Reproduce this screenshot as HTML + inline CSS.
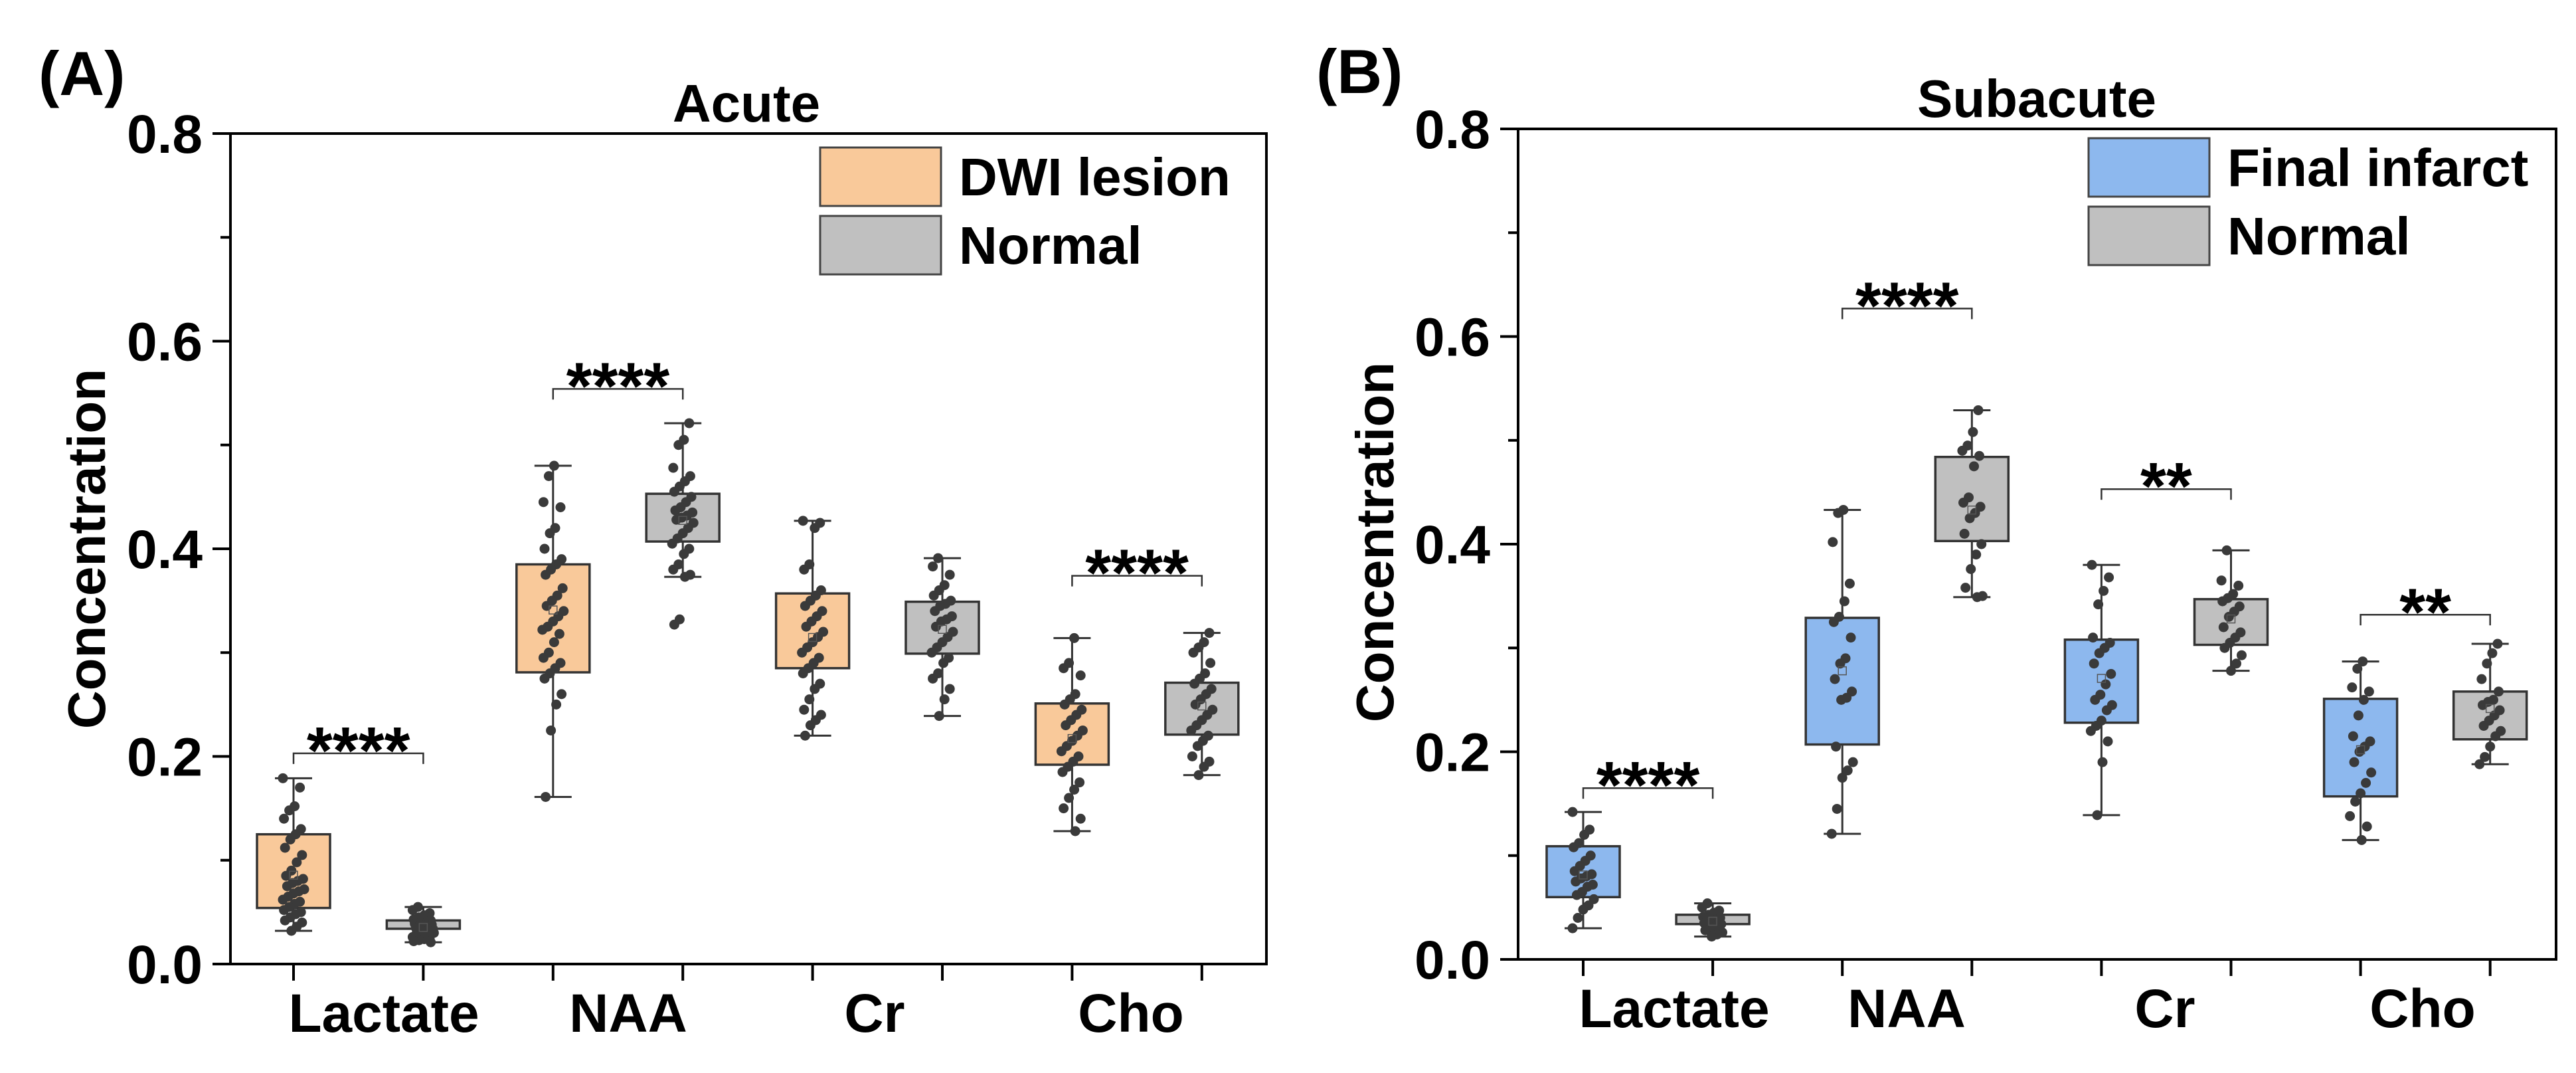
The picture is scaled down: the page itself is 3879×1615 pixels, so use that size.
<!DOCTYPE html>
<html><head><meta charset="utf-8"><style>
html,body{margin:0;padding:0;background:#fff;}
svg{display:block;font-family:"Liberation Sans",Arial,sans-serif;font-weight:bold;}
</style></head>
<body>
<svg id="fig" width="3879" height="1615" viewBox="0 0 3879 1615" xmlns="http://www.w3.org/2000/svg"></svg>
<script>
// ---- Data ----
const categories = ["Lactate","NAA","Cr","Cho"];
const yTicks = [0.0,0.2,0.4,0.6,0.8];
const yTickLabels = ["0.0","0.2","0.4","0.6","0.8"];
// Panel A box stats [min,q1,q3,max] per category for lesion / normal
const aLesionStats = [[0.032,0.054,0.125,0.179],[0.161,0.281,0.385,0.480],[0.220,0.285,0.357,0.427],[0.128,0.192,0.251,0.314]];
const aNormalStats = [[0.021,0.034,0.042,0.055],[0.373,0.407,0.453,0.521],[0.239,0.299,0.349,0.391],[0.182,0.221,0.271,0.319]];
const bInfarctStats = [[0.030,0.060,0.109,0.142],[0.121,0.207,0.329,0.433],[0.139,0.228,0.308,0.380],[0.115,0.157,0.251,0.287]];
const bNormalStats = [[0.022,0.034,0.043,0.054],[0.349,0.403,0.484,0.529],[0.278,0.303,0.347,0.394],[0.188,0.212,0.258,0.304]];
// Points
const aLesionPts = [
 [0.179,0.170,0.152,0.148,0.140,0.130,0.125,0.120,0.112,0.105,0.098,0.090,0.085,0.082,0.080,0.078,0.075,0.072,0.070,0.068,0.065,0.062,0.060,0.058,0.055,0.052,0.050,0.048,0.045,0.042,0.040,0.036,0.032],
 [0.480,0.470,0.445,0.440,0.420,0.415,0.400,0.390,0.385,0.380,0.375,0.362,0.355,0.350,0.345,0.340,0.335,0.330,0.325,0.322,0.318,0.310,0.300,0.295,0.290,0.285,0.280,0.275,0.260,0.250,0.225,0.161],
 [0.427,0.425,0.420,0.385,0.380,0.360,0.355,0.350,0.345,0.340,0.335,0.330,0.325,0.320,0.315,0.310,0.305,0.300,0.295,0.290,0.285,0.280,0.270,0.265,0.255,0.245,0.240,0.235,0.230,0.220],
 [0.314,0.290,0.285,0.278,0.260,0.255,0.250,0.245,0.240,0.235,0.230,0.225,0.220,0.215,0.210,0.205,0.200,0.195,0.190,0.185,0.175,0.168,0.160,0.150,0.140,0.128]];
const aNormalPts = [
 [0.055,0.052,0.049,0.047,0.045,0.043,0.042,0.041,0.040,0.039,0.038,0.037,0.036,0.035,0.034,0.033,0.032,0.031,0.030,0.029,0.028,0.027,0.026,0.025,0.024,0.023,0.022,0.021,0.035,0.038],
 [0.521,0.505,0.500,0.478,0.470,0.465,0.460,0.455,0.450,0.445,0.440,0.437,0.435,0.432,0.430,0.428,0.425,0.420,0.415,0.410,0.405,0.400,0.395,0.385,0.380,0.375,0.373,0.332,0.327],
 [0.391,0.383,0.375,0.365,0.360,0.355,0.350,0.347,0.345,0.340,0.335,0.332,0.330,0.325,0.320,0.315,0.310,0.305,0.300,0.295,0.290,0.280,0.275,0.265,0.255,0.239],
 [0.319,0.310,0.305,0.300,0.290,0.280,0.275,0.270,0.265,0.260,0.255,0.250,0.245,0.240,0.235,0.230,0.225,0.220,0.215,0.210,0.200,0.195,0.190,0.182]];
const bInfarctPts = [
 [0.142,0.125,0.120,0.112,0.108,0.100,0.095,0.090,0.085,0.082,0.080,0.078,0.075,0.072,0.070,0.065,0.062,0.058,0.052,0.048,0.040,0.030],
 [0.433,0.430,0.402,0.362,0.345,0.330,0.325,0.310,0.290,0.285,0.270,0.258,0.252,0.250,0.205,0.190,0.182,0.175,0.145,0.121],
 [0.380,0.368,0.355,0.342,0.310,0.305,0.300,0.295,0.285,0.275,0.265,0.255,0.250,0.245,0.240,0.230,0.225,0.220,0.210,0.190,0.139],
 [0.287,0.280,0.262,0.258,0.250,0.235,0.215,0.210,0.205,0.200,0.190,0.180,0.170,0.160,0.152,0.138,0.128,0.115]];
const bNormalPts = [
 [0.054,0.050,0.047,0.045,0.043,0.041,0.040,0.038,0.036,0.035,0.034,0.032,0.030,0.028,0.026,0.024,0.022],
 [0.529,0.508,0.495,0.490,0.485,0.475,0.445,0.440,0.436,0.430,0.425,0.410,0.400,0.390,0.376,0.358,0.350,0.349],
 [0.394,0.365,0.360,0.352,0.348,0.345,0.340,0.335,0.330,0.320,0.315,0.310,0.305,0.300,0.293,0.285,0.278],
 [0.304,0.295,0.285,0.270,0.258,0.250,0.248,0.245,0.240,0.235,0.230,0.225,0.220,0.215,0.205,0.195,0.188]];
// significance: [category index, bracket value, label]
const aSig = [[0,0.203,"****"],[1,0.554,"****"],[3,0.374,"****"]];
const bSig = [[0,0.165,"****"],[1,0.627,"****"],[2,0.453,"**"],[3,0.332,"**"]];

const NS="http://www.w3.org/2000/svg";
const svg=document.getElementById('fig');
function el(tag,attrs,parent,text){const e=document.createElementNS(NS,tag);for(const k in attrs)e.setAttribute(k,attrs[k]);if(text!==undefined)e.textContent=text;(parent||svg).appendChild(e);return e;}

function panel(cfg){
  const g=el('g',{});
  
  
  const L=cfg.left,R=cfg.right,T=cfg.top,B=cfg.bottom;
  const y=v=>B-(v/0.8)*(B-T);
  const x=i=>cfg.x0+i*cfg.dx;
  const fr=el('rect',{x:L,y:T,width:R-L,height:B-T,fill:'none',stroke:'#000','stroke-width':4},g);
  
  
  yTicks.forEach((t,i)=>{
    el('line',{x1:L-27,x2:L,y1:y(t),y2:y(t),stroke:'#000','stroke-width':4},g);
    const tl=el('text',{x:cfg.left-42,y:y(t)+29,'font-size':82,'text-anchor':'end'},g,yTickLabels[i]);
    
    
    if(i<yTicks.length-1){const m=t+0.1;el('line',{x1:L-15,x2:L,y1:y(m),y2:y(m),stroke:'#000','stroke-width':4},g);}
  });
  for(let i=0;i<8;i++) el('line',{x1:x(i),x2:x(i),y1:B,y2:B+25,stroke:'#000','stroke-width':4},g);
  categories.forEach((c,i)=>{
    const t=el('text',{x:cfg.catX[i],y:cfg.catY,'font-size':82,'text-anchor':'middle'},g,c);
    
    
  });
  const yt=el('text',{x:0,y:0,'font-size':80,'text-anchor':'middle',transform:`translate(${cfg.ytX},${cfg.ytY}) rotate(-90)`},g,'Concentration');
  
  
  const tt=el('text',{x:cfg.titleX,y:cfg.titleY,'font-size':80,'text-anchor':'middle'},g,cfg.title);
  
  
  const pl=el('text',{x:cfg.plX,y:cfg.plY,'font-size':94},g,cfg.panelLabel);
  
  
  const series=[[cfg.s1Stats,cfg.s1Pts,cfg.c1,0],[cfg.s2Stats,cfg.s2Pts,'#c0c0c0',1]];
  series.forEach(([stats,pts,col,off],si)=>{
    stats.forEach((s,ci)=>{
      const cx=x(ci*2+off);
      const bg=el('g',{},g);
      
      
      el('line',{x1:cx,x2:cx,y1:y(s[3]),y2:y(s[2]),stroke:'#333','stroke-width':3},bg);
      el('line',{x1:cx,x2:cx,y1:y(s[1]),y2:y(s[0]),stroke:'#333','stroke-width':3},bg);
      el('line',{x1:cx-28,x2:cx+28,y1:y(s[3]),y2:y(s[3]),stroke:'#333','stroke-width':3},bg);
      el('line',{x1:cx-28,x2:cx+28,y1:y(s[0]),y2:y(s[0]),stroke:'#333','stroke-width':3},bg);
      el('rect',{x:cx-55,y:y(s[2]),width:110,height:y(s[1])-y(s[2]),fill:col,stroke:'#333','stroke-width':3.5},bg);
      const p=pts[ci];
      p.forEach((v,k)=>{
        const j=(((k*37+ci*11+si*5)%21)-10)*1.6;
        const d=el('circle',{cx:cx+j,cy:y(v),r:7.5,fill:'#3a3a3a'},bg);
        
        
      });
      const mean=p.reduce((a,b)=>a+b,0)/p.length;
      el('rect',{x:cx-6,y:y(mean)-6,width:12,height:12,fill:'none',stroke:'#555','stroke-width':1.5},bg);
    });
  });
  cfg.sig.forEach(([ci,v,lab])=>{
    const x1=x(ci*2),x2=x(ci*2+1),yy=y(v);
    const sg=el('g',{},g);
    
    
    el('polyline',{points:`${x1},${yy+16} ${x1},${yy} ${x2},${yy} ${x2},${yy+16}`,fill:'none',stroke:'#333','stroke-width':2.5},sg);
    el('text',{x:(x1+x2)/2,y:yy+30,'font-size':100,'text-anchor':'middle'},sg,lab);
  });
  const lg=el('g',{},g);
  
  
  [[cfg.c1,cfg.leg1],['#c0c0c0','Normal']].forEach(([c,t],i)=>{
    const ly=cfg.legY+i*103;
    const le=el('g',{},lg);
    
    
    el('rect',{x:cfg.legX,y:ly,width:182,height:88,fill:c,stroke:'#444','stroke-width':3},le);
    el('text',{x:cfg.legX+209,y:ly+72,'font-size':80},le,t);
  });
}

panel({name:'panel-a-acute',left:347,right:1907,top:201,bottom:1451,x0:442,dx:195.4,
  catX:[578,946,1317,1703],catY:1553,ytX:158,ytY:826,title:'Acute',titleX:1124,titleY:183,
  panelLabel:'(A)',plX:58,plY:143,s1Stats:aLesionStats,s1Pts:aLesionPts,c1:'#f9c99a',
  s2Stats:aNormalStats,s2Pts:aNormalPts,sig:aSig,legX:1235,legY:222,leg1:'DWI lesion'});
panel({name:'panel-b-subacute',left:2286,right:3849,top:194,bottom:1444,x0:2384,dx:195.1,
  catX:[2521,2871,3260,3648],catY:1546,ytX:2098,ytY:816,title:'Subacute',titleX:3067,titleY:176,
  panelLabel:'(B)',plX:1982,plY:140,s1Stats:bInfarctStats,s1Pts:bInfarctPts,c1:'#8db8ee',
  s2Stats:bNormalStats,s2Pts:bNormalPts,sig:bSig,legX:3145,legY:208,leg1:'Final infarct'});
</script>
</body></html>
